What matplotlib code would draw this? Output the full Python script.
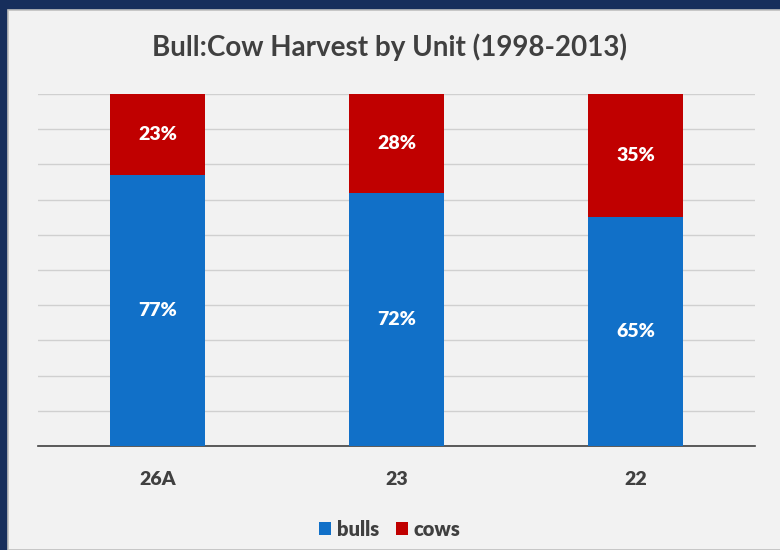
import matplotlib.pyplot as plt
from matplotlib.patches import Rectangle

units = ['26A', '23', '22']
bulls = [77, 72, 65]
cows = [23, 28, 35]

blue = '#1170c8'
red = '#c00000'
plt.rcParams['font.family'] = ['Lato', 'DejaVu Sans']

fig = plt.figure(figsize=(7.8, 5.5), dpi=100, facecolor='#172e5c')
# light panel inside the navy frame
fig.patches.append(Rectangle((8 / 780, 0), 1, 1 - 10 / 550, transform=fig.transFigure,
                             facecolor='#f2f2f2', edgecolor='#bfbfbf', linewidth=1.2, zorder=-1))

ax = fig.add_axes([38 / 780, 104 / 550, 717 / 780, 352 / 550])
ax.set_facecolor('none')

x = range(len(units))
ax.bar(x, bulls, width=0.4, color=blue, label='bulls', zorder=3)
ax.bar(x, cows, width=0.4, bottom=bulls, color=red, label='cows', zorder=3)

for i in x:
    ax.text(i, bulls[i] / 2, f'{bulls[i]}%', ha='center', va='center', color='white',
            fontsize=14, fontweight='heavy', zorder=4)
    ax.text(i, bulls[i] + cows[i] / 2, f'{cows[i]}%', ha='center', va='center', color='white',
            fontsize=14, fontweight='heavy', zorder=4)

ax.set_xlim(-0.5, 2.5)
ax.set_ylim(0, 100)
ax.set_yticks(range(0, 101, 10))
ax.yaxis.grid(True, color='#d0d0d0', linewidth=1, zorder=0)
ax.tick_params(axis='y', length=0, labelleft=False)
ax.tick_params(axis='x', length=0, pad=18, labelsize=14, colors='#404040')
ax.set_xticks(list(x))
ax.set_xticklabels(units, fontweight='heavy')
for s in ['top', 'right', 'left']:
    ax.spines[s].set_visible(False)
ax.spines['bottom'].set_color('#404040')
ax.spines['bottom'].set_linewidth(1.2)

fig.text(0.5, 1 - 47 / 550, 'Bull:Cow Harvest by Unit (1998-2013)', ha='center', va='center',
         fontsize=20, fontweight='bold', color='#404040')

fig.legend(loc='center', bbox_to_anchor=(0.5, 1 - 529 / 550), ncol=2, frameon=False,
           handlelength=0.6, handleheight=0.6, handletextpad=0.3, columnspacing=0.8,
           prop={'weight': 'heavy', 'size': 14.5}, labelcolor='#404040')

fig.savefig('out.png', dpi=100, facecolor=fig.get_facecolor())
